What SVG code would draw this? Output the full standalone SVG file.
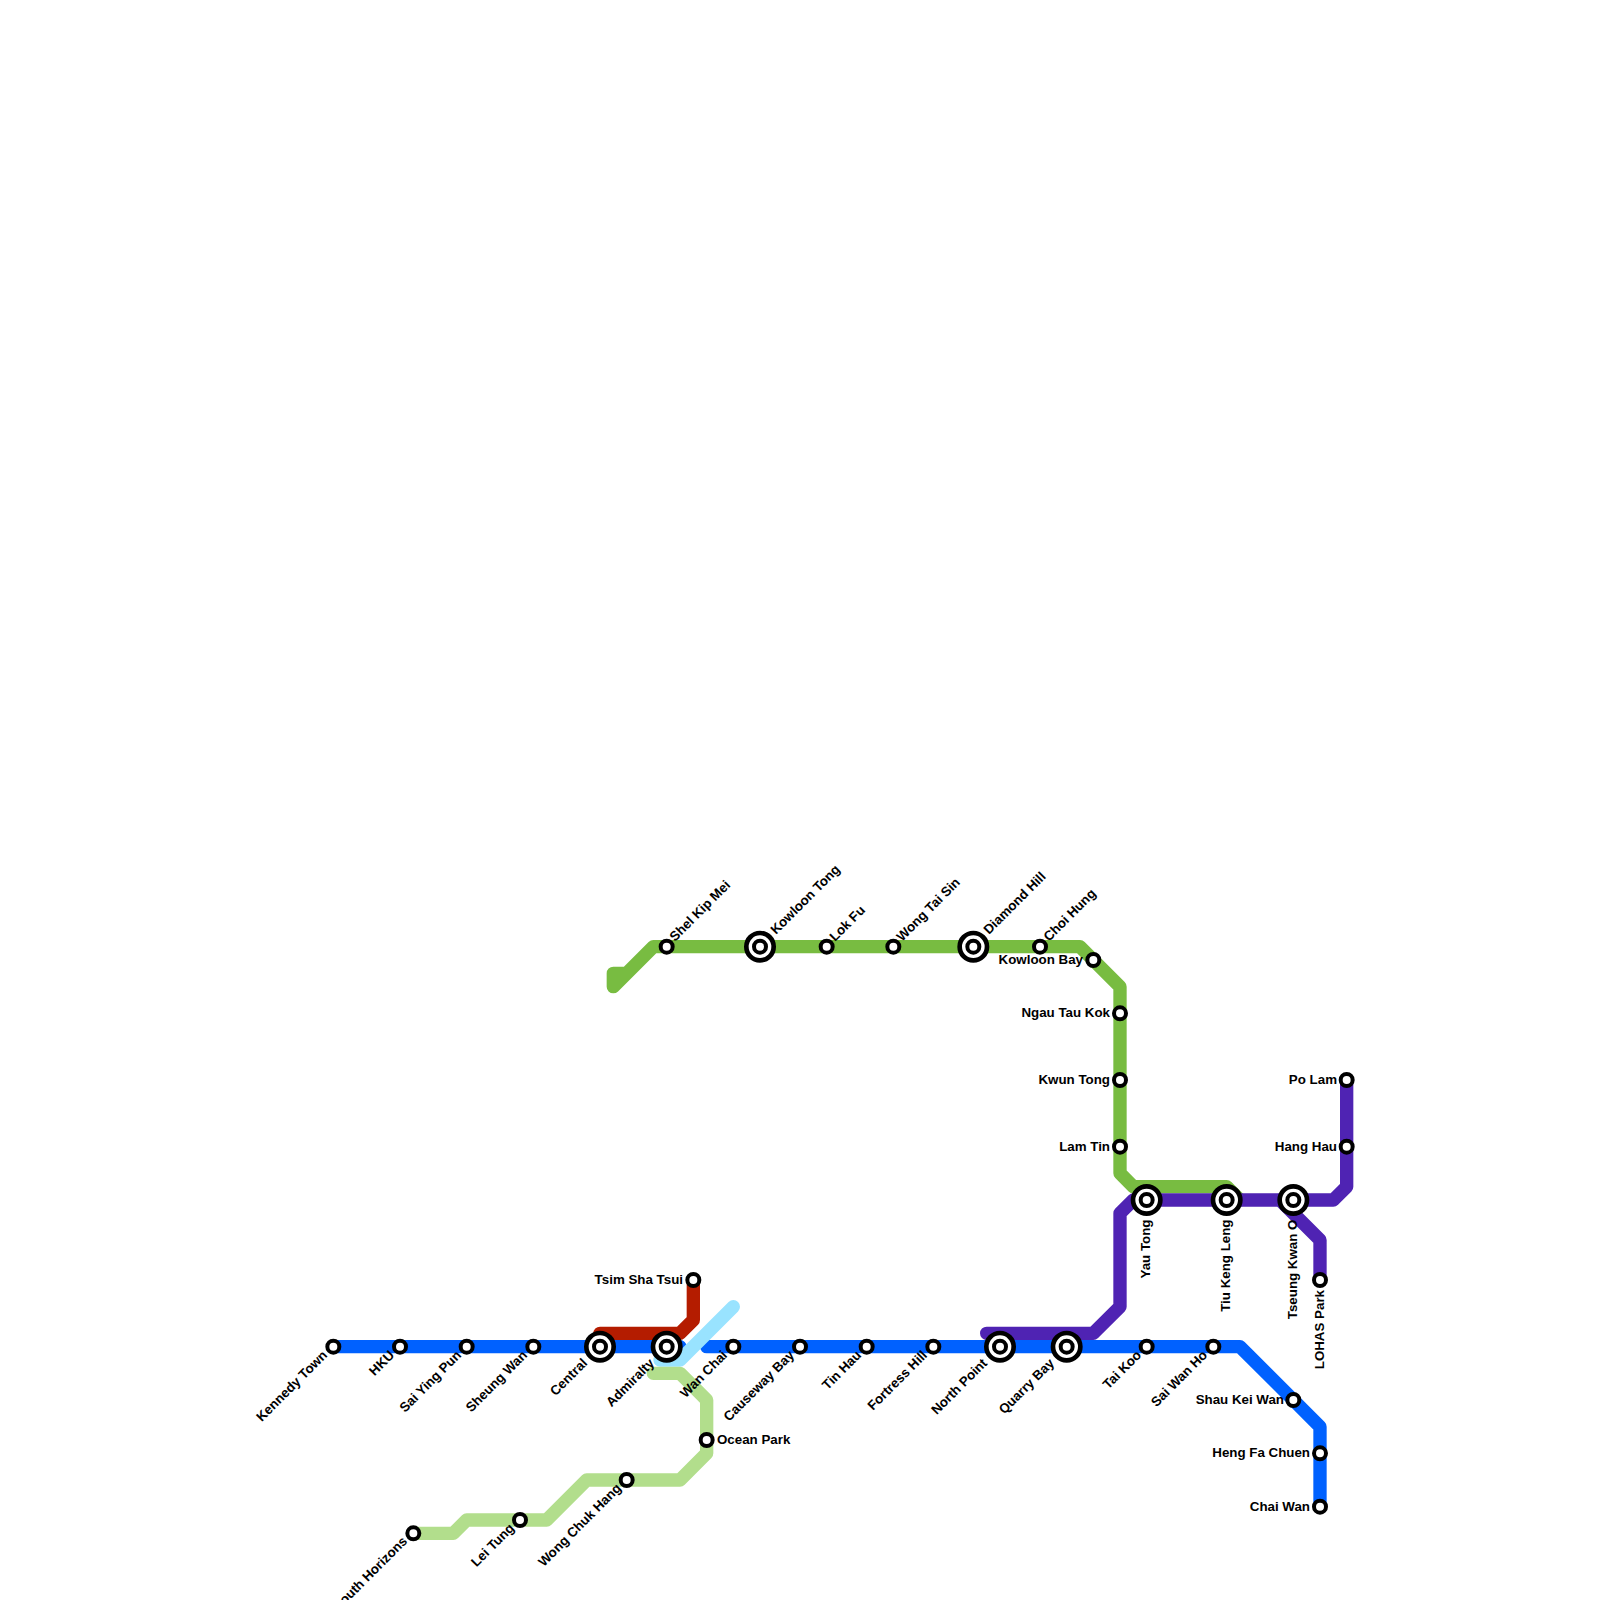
<svg xmlns="http://www.w3.org/2000/svg" width="1600" height="1600" viewBox="0 0 1600 1600">
<style>
.l{fill:none;stroke-width:13.33;stroke-linejoin:round;stroke-linecap:round}
.s{fill:#fff;stroke:#000;stroke-width:4}
.c{fill:#fff;stroke:#000;stroke-width:4.67}
text{font-family:"Liberation Sans",Arial,sans-serif;font-weight:bold;font-size:13.33px;fill:#000}
.e{text-anchor:end}
</style>
<rect width="1600" height="1600" fill="#fff"/>
<g id="connectors">
<path class="l" stroke="#b41c00" d="M600 1333.33H680L693.33 1320V1280"/>
<path class="l" stroke="#0061ff" d="M333.33 1346.67H680M706.67 1346.67H1240L1320 1426.67V1506.67"/>
<path class="l" stroke="#99e3ff" d="M733.33 1306.67L680 1360H660L666.67 1353"/>
<path class="l" stroke="#b2de8c" d="M653.33 1373.33H680L706.67 1400V1453.33L680 1480H586.67L546.67 1520H466.67L453.33 1533.33H413.33"/>
<path class="l" stroke="#78bc41" d="M626.67 973.33H613.33V986.67L653.33 946.67H1080L1120 986.67V1173.33L1133.33 1186.67H1226.67L1240 1200"/>
<path class="l" stroke="#4f23b3" d="M1346.67 1080V1186.67L1333.33 1200H1133.33L1120 1213.33V1306.67L1093.33 1333.33H986.67M1280 1200L1320 1240V1280"/>
</g>
<g id="n-kennedy-town"><circle class="s" cx="333.33" cy="1346.67" r="6"/><text class="e" transform="translate(328 1356) rotate(-45)">Kennedy Town</text></g>
<g id="n-hku"><circle class="s" cx="400" cy="1346.67" r="6"/><text class="e" transform="translate(395 1356) rotate(-45)">HKU</text></g>
<g id="n-sai-ying-pun"><circle class="s" cx="466.67" cy="1346.67" r="6"/><text class="e" transform="translate(462 1356) rotate(-45)">Sai Ying Pun</text></g>
<g id="n-sheung-wan"><circle class="s" cx="533.33" cy="1346.67" r="6"/><text class="e" transform="translate(528 1356) rotate(-45)">Sheung Wan</text></g>
<g id="n-central"><circle class="c" cx="600" cy="1346.67" r="13.67"/><circle class="s" cx="600" cy="1346.67" r="6"/><text class="e" transform="translate(588 1364) rotate(-45)">Central</text></g>
<g id="n-admiralty"><circle class="c" cx="666.67" cy="1346.67" r="13.67"/><circle class="s" cx="666.67" cy="1346.67" r="6"/><text class="e" transform="translate(655 1364) rotate(-45)">Admiralty</text></g>
<g id="n-wan-chai"><circle class="s" cx="733.33" cy="1346.67" r="6"/><text class="e" transform="translate(728 1356) rotate(-45)">Wan Chai</text></g>
<g id="n-causeway-bay"><circle class="s" cx="800" cy="1346.67" r="6"/><text class="e" transform="translate(795 1356) rotate(-45)">Causeway Bay</text></g>
<g id="n-tin-hau"><circle class="s" cx="866.67" cy="1346.67" r="6"/><text class="e" transform="translate(862 1356) rotate(-45)">Tin Hau</text></g>
<g id="n-fortress-hill"><circle class="s" cx="933.33" cy="1346.67" r="6"/><text class="e" transform="translate(928 1356) rotate(-45)">Fortress Hill</text></g>
<g id="n-north-point"><circle class="c" cx="1000" cy="1346.67" r="13.67"/><circle class="s" cx="1000" cy="1346.67" r="6"/><text class="e" transform="translate(988 1364) rotate(-45)">North Point</text></g>
<g id="n-quarry-bay"><circle class="c" cx="1066.67" cy="1346.67" r="13.67"/><circle class="s" cx="1066.67" cy="1346.67" r="6"/><text class="e" transform="translate(1055 1364) rotate(-45)">Quarry Bay</text></g>
<g id="n-tai-koo"><circle class="s" cx="1146.67" cy="1346.67" r="6"/><text class="e" transform="translate(1142 1356) rotate(-45)">Tai Koo</text></g>
<g id="n-sai-wan-ho"><circle class="s" cx="1213.33" cy="1346.67" r="6"/><text class="e" transform="translate(1208 1356) rotate(-45)">Sai Wan Ho</text></g>
<g id="n-shau-kei-wan"><circle class="s" cx="1293.33" cy="1400" r="6"/><text class="e" x="1284" y="1403.5">Shau Kei Wan</text></g>
<g id="n-heng-fa-chuen"><circle class="s" cx="1320" cy="1453.33" r="6"/><text class="e" x="1310" y="1457">Heng Fa Chuen</text></g>
<g id="n-chai-wan"><circle class="s" cx="1320" cy="1506.67" r="6"/><text class="e" x="1310" y="1511">Chai Wan</text></g>
<g id="n-tsim-sha-tsui"><circle class="s" cx="693.33" cy="1280" r="6"/><text class="e" x="683" y="1284">Tsim Sha Tsui</text></g>
<g id="n-ocean-park"><circle class="s" cx="706.67" cy="1440" r="6"/><text x="717" y="1443.5">Ocean Park</text></g>
<g id="n-wong-chuk-hang"><circle class="s" cx="626.67" cy="1480" r="6"/><text class="e" transform="translate(622 1489) rotate(-45)">Wong Chuk Hang</text></g>
<g id="n-lei-tung"><circle class="s" cx="520" cy="1520" r="6"/><text class="e" transform="translate(515 1529) rotate(-45)">Lei Tung</text></g>
<g id="n-south-horizons"><circle class="s" cx="413.33" cy="1533.33" r="6"/><text class="e" transform="translate(408 1542) rotate(-45)">South Horizons</text></g>
<g id="n-shek-kip-mei"><circle class="s" cx="666.67" cy="946.67" r="6"/><text transform="translate(675 942) rotate(-45)">Shel Kip Mei</text></g>
<g id="n-kowloon-tong"><circle class="c" cx="760" cy="946.67" r="13.67"/><circle class="s" cx="760" cy="946.67" r="6"/><text transform="translate(776 935) rotate(-45)">Kowloon Tong</text></g>
<g id="n-lok-fu"><circle class="s" cx="826.67" cy="946.67" r="6"/><text transform="translate(835 942) rotate(-45)">Lok Fu</text></g>
<g id="n-wong-tai-sin"><circle class="s" cx="893.33" cy="946.67" r="6"/><text transform="translate(902 942) rotate(-45)">Wong Tai Sin</text></g>
<g id="n-diamond-hill"><circle class="c" cx="973.33" cy="946.67" r="13.67"/><circle class="s" cx="973.33" cy="946.67" r="6"/><text transform="translate(989 935) rotate(-45)">Diamond Hill</text></g>
<g id="n-choi-hung"><circle class="s" cx="1040" cy="946.67" r="6"/><text transform="translate(1049 942) rotate(-45)">Choi Hung</text></g>
<g id="n-kowloon-bay"><circle class="s" cx="1093.33" cy="960" r="6"/><text class="e" x="1083" y="963.5">Kowloon Bay</text></g>
<g id="n-ngau-tau-kok"><circle class="s" cx="1120" cy="1013.33" r="6"/><text class="e" x="1110" y="1017">Ngau Tau Kok</text></g>
<g id="n-kwun-tong"><circle class="s" cx="1120" cy="1080" r="6"/><text class="e" x="1110" y="1084">Kwun Tong</text></g>
<g id="n-lam-tin"><circle class="s" cx="1120" cy="1146.67" r="6"/><text class="e" x="1110" y="1151">Lam Tin</text></g>
<g id="n-yau-tong"><circle class="c" cx="1146.67" cy="1200" r="13.67"/><circle class="s" cx="1146.67" cy="1200" r="6"/><text class="e" transform="translate(1150 1219.5) rotate(-90)">Yau Tong</text></g>
<g id="n-tiu-keng-leng"><circle class="c" cx="1226.67" cy="1200" r="13.67"/><circle class="s" cx="1226.67" cy="1200" r="6"/><text class="e" transform="translate(1230 1219.5) rotate(-90)">Tiu Keng Leng</text></g>
<g id="n-tseung-kwan-o"><circle class="c" cx="1293.33" cy="1200" r="13.67"/><circle class="s" cx="1293.33" cy="1200" r="6"/><text class="e" transform="translate(1297 1219.5) rotate(-90)">Tseung Kwan O</text></g>
<g id="n-hang-hau"><circle class="s" cx="1346.67" cy="1146.67" r="6"/><text class="e" x="1337" y="1151">Hang Hau</text></g>
<g id="n-po-lam"><circle class="s" cx="1346.67" cy="1080" r="6"/><text class="e" x="1337" y="1084">Po Lam</text></g>
<g id="n-lohas-park"><circle class="s" cx="1320" cy="1280" r="6"/><text class="e" transform="translate(1324 1290) rotate(-90)">LOHAS Park</text></g>
</svg>
